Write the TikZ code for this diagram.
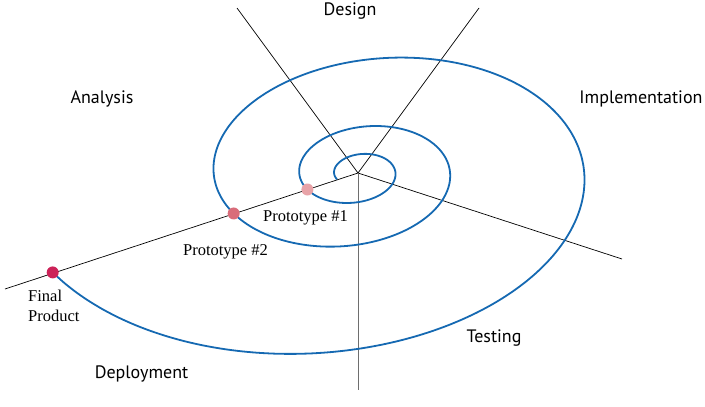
\documentclass[tikz,border=0pt]{standalone}
\usepackage{fontspec}
\newfontfamily\phasefont{PT Sans}
\newfontfamily\protofont{Liberation Serif}
\definecolor{spiralblue}{RGB}{21,105,178}
\definecolor{protoA}{RGB}{232,163,168}
\definecolor{protoB}{RGB}{217,108,122}
\definecolor{protoC}{RGB}{204,34,88}
\definecolor{axisgray}{RGB}{110,110,110}
% spiral point at angle t (radians)
\tikzset{declare function={spx(\t)=15.3*exp(0.143*\t)*cos(\t r); spy(\t)=0.64*15.3*exp(0.143*\t)*sin(\t r);}}
\begin{document}
\begin{tikzpicture}[x=1pt,y=-1pt]
\tikzstyle{spoke}=[black, line width=0.7pt]
\tikzstyle{spiral}=[spiralblue, line width=1.8pt]
\tikzstyle{phase}=[font=\phasefont\fontsize{18}{22}\selectfont, inner sep=0pt, anchor=base]
\tikzstyle{proto}=[font=\protofont\fontsize{16.5}{20}\selectfont, inner sep=0pt, anchor=base]
\tikzstyle{dot}=[circle, inner sep=0pt, minimum size=12pt]
\useasboundingbox (0,0) rectangle (705,407);
% hub and ends of the spokes
\coordinate (hub) at (358,173);
\coordinate (ul) at (237,8);
\coordinate (ur) at (479,8);
\coordinate (rt) at (622,259);
\coordinate (dn) at (358,390);
\coordinate (ll) at (5,289);
\draw [spoke] (hub) -- (ul);
\draw [spoke] (hub) -- (ur);
\draw [spoke] (hub) -- (rt);
\draw [spoke, axisgray] (hub) -- (dn);
\draw [spoke] (hub) -- (ll);
% spiral and prototypes
\begin{scope}[shift={(hub)}, rotate=-2, xslant=0.2]
\draw [spiral] plot [domain=2.62:21.44, samples=300, variable=\t, smooth] ({spx(\t)}, {spy(\t)});
\node [dot, fill=protoA] (proto1) at ({spx(8.873)}, {spy(8.873)}) {};
\node [dot, fill=protoB] (proto2) at ({spx(15.157)}, {spy(15.157)}) {};
\node [dot, fill=protoC] (final) at ({spx(21.44)}, {spy(21.44)}) {};
\end{scope}
\node [proto] (proto1 label) at (305.5,221) {Prototype \#1};
\node [proto] (proto2 label) at (225.5,255) {Prototype \#2};
\node [proto, anchor=base west, align=left] (final label) at (28,321) {Final\\Product};
% phases
\node [phase] (design) at (350,15) {Design};
\node [phase] (analysis) at (102,103) {Analysis};
\node [phase] (implementation) at (641,103) {Implementation};
\node [phase] (testing) at (494,342) {Testing};
\node [phase] (deployment) at (141.5,378) {Deployment};
\end{tikzpicture}
\end{document}
